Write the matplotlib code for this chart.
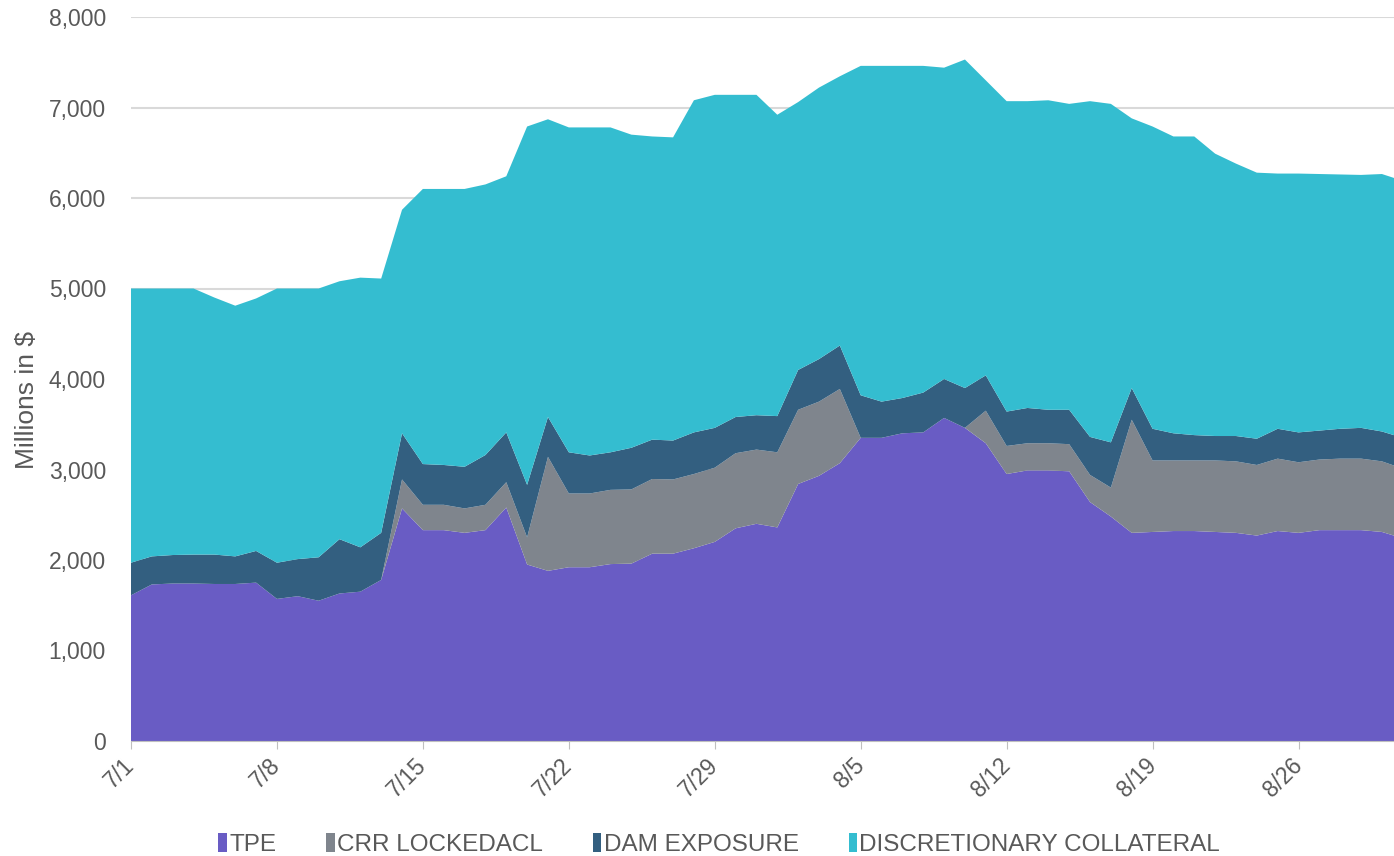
import numpy as np
import matplotlib.pyplot as plt
from matplotlib.ticker import FuncFormatter

plt.rcParams['font.family'] = ['Liberation Sans', 'DejaVu Sans']

# Dnevi od 7/1 naprej (zadnji dan je na desnem robu odrezan)
days = np.arange(62)
tick_days = [0, 7, 14, 21, 28, 35, 42, 49, 56]
tick_labels = ["7/1", "7/8", "7/15", "7/22", "7/29", "8/5", "8/12", "8/19", "8/26"]

tpe = [1610, 1730, 1740, 1740, 1735, 1735, 1750, 1570, 1600, 1550,
       1630, 1650, 1780, 2570, 2330, 2330, 2300, 2330, 2580, 1950,
       1880, 1920, 1920, 1955, 1960, 2070, 2070, 2130, 2200, 2350,
       2400, 2360, 2840, 2930, 3070, 3350, 3350, 3400, 3410, 3570,
       3460, 3290, 2950, 2990, 2990, 2980, 2640, 2480, 2300, 2310,
       2320, 2320, 2310, 2300, 2270, 2320, 2300, 2330, 2330, 2330,
       2310, 2240]
crr_locked_acl = [0, 0, 0, 0, 0, 0, 0, 0, 0, 0,
                  0, 0, 0, 320, 280, 280, 270, 280, 280, 300,
                  1260, 815, 815, 820, 820, 825, 820, 820, 820, 830,
                  820, 830, 820, 820, 820, 0, 0, 0, 0, 0,
                  0, 360, 310, 300, 300, 300, 300, 320, 1250, 790,
                  780, 780, 790, 790, 780, 800, 780, 780, 790, 790,
                  780, 770]
dam_exposure = [360, 310, 315, 320, 325, 305, 350, 400, 410, 480,
                600, 490, 520, 510, 450, 440, 460, 550, 550, 580,
                440, 455, 420, 415, 460, 435, 430, 460, 440, 400,
                380, 400, 440, 470, 480, 470, 400, 390, 440, 430,
                440, 390, 380, 390, 370, 380, 420, 500, 350, 350,
                300, 280, 270, 280, 290, 330, 330, 320, 330, 340,
                330, 340]
discretionary = [3030, 2960, 2945, 2940, 2840, 2770, 2790, 3030, 2990, 2970,
                 2850, 2980, 2810, 2470, 3040, 3050, 3070, 2990, 2830, 3960,
                 3290, 3590, 3625, 3590, 3460, 3350, 3350, 3670, 3680, 3560,
                 3540, 3330, 2960, 3000, 2975, 3640, 3710, 3670, 3610, 3440,
                 3630, 3260, 3430, 3390, 3420, 3380, 3710, 3740, 2980, 3340,
                 3280, 3300, 3120, 3010, 2940, 2820, 2860, 2835, 2810, 2795,
                 2845, 2840]

labels = ["TPE", "CRR LOCKEDACL", "DAM EXPOSURE", "DISCRETIONARY COLLATERAL"]
colors = ["#695CC4", "#7F858D", "#335F80", "#34BDD0"]
text_color = "#595959"

fig = plt.figure(figsize=(13.94, 8.56), dpi=100)
ax = fig.add_axes([131 / 1394, 115 / 856, 1263 / 1394, 724 / 856])

ax.stackplot(days, tpe, crr_locked_acl, dam_exposure, discretionary,
             labels=labels, colors=colors, linewidth=0)

ax.set_xlim(0, 60.58)
ax.set_ylim(0, 8000)
ax.set_yticks(range(0, 8001, 1000))
ax.yaxis.set_major_formatter(FuncFormatter(lambda v, p: f"{v:,.0f}"))
ax.grid(axis="y", color="#d9d9d9", linewidth=1.5)
ax.set_axisbelow(True)

ax.set_xticks(tick_days)
ax.set_xticklabels(tick_labels, rotation=45, ha="right", va="center",
                   rotation_mode="anchor")

for side in ["top", "right", "left"]:
    ax.spines[side].set_visible(False)
ax.spines["bottom"].set_color("#bfbfbf")
ax.spines["bottom"].set_zorder(5)

ax.tick_params(axis="y", length=0, pad=18, labelsize=16.5, labelcolor=text_color)
ax.tick_params(axis="x", length=6, color="#bfbfbf", pad=9, labelsize=16.5,
               labelcolor=text_color)

ax.set_ylabel("Millions in $", fontsize=19, color=text_color)
ax.yaxis.set_label_coords(-0.073, 0.471)

fig.legend(loc="center", bbox_to_anchor=(0.516, 0.0135), ncol=4, frameon=False,
           fontsize=17.5, handlelength=0.35, handleheight=0.8, handletextpad=0.1,
           columnspacing=2.05, labelcolor=text_color)

fig.savefig("out.png", dpi=100)
